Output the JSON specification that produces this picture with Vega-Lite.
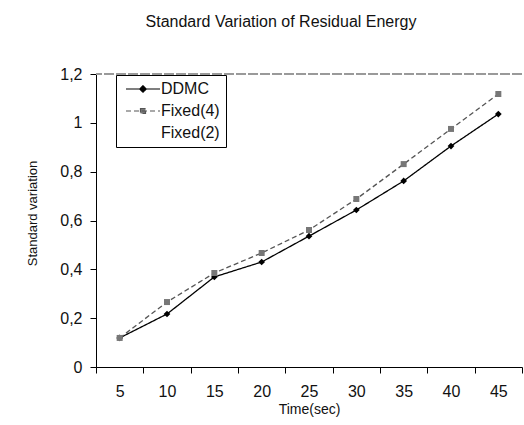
{
  "$schema": "https://vega.github.io/schema/vega-lite/v6.json",
  "width": 426,
  "height": 293,
  "autosize": {"type": "none"},
  "padding": {"left": 96, "top": 74, "right": 2, "bottom": 58},
  "background": "white",
  "config": {
    "font": "Liberation Sans",
    "view": {"stroke": null}
  },
  "title": {
    "text": "Standard Variation of Residual Energy",
    "fontSize": 16,
    "fontWeight": "normal",
    "font": "Liberation Sans",
    "color": "#111",
    "anchor": "middle",
    "dx": -28,
    "offset": 36
  },
  "data": {
    "values": [
      {"time": 5, "series": "DDMC", "value": 0.119},
      {"time": 10, "series": "DDMC", "value": 0.217},
      {"time": 15, "series": "DDMC", "value": 0.369},
      {"time": 20, "series": "DDMC", "value": 0.43},
      {"time": 25, "series": "DDMC", "value": 0.536},
      {"time": 30, "series": "DDMC", "value": 0.643},
      {"time": 35, "series": "DDMC", "value": 0.762},
      {"time": 40, "series": "DDMC", "value": 0.905},
      {"time": 45, "series": "DDMC", "value": 1.036},
      {"time": 5, "series": "Fixed(4)", "value": 0.119},
      {"time": 10, "series": "Fixed(4)", "value": 0.266},
      {"time": 15, "series": "Fixed(4)", "value": 0.385},
      {"time": 20, "series": "Fixed(4)", "value": 0.467},
      {"time": 25, "series": "Fixed(4)", "value": 0.561},
      {"time": 30, "series": "Fixed(4)", "value": 0.688},
      {"time": 35, "series": "Fixed(4)", "value": 0.831},
      {"time": 40, "series": "Fixed(4)", "value": 0.975},
      {"time": 45, "series": "Fixed(4)", "value": 1.118}
    ]
  },
  "encoding": {
    "x": {
      "field": "time",
      "type": "ordinal",
      "scale": {"paddingInner": 0, "paddingOuter": 0},
      "axis": {
        "title": "Time(sec)",
        "labelAngle": 0,
        "tickBand": "extent",
        "labelFontSize": 16,
        "labelColor": "#111",
        "labelPadding": 10,
        "titleFontSize": 14,
        "titleFontWeight": "normal",
        "titleColor": "#111",
        "titlePadding": 3,
        "domainColor": "black",
        "tickColor": "black",
        "tickSize": 6,
        "grid": false
      }
    },
    "y": {
      "field": "value",
      "type": "quantitative",
      "scale": {"domain": [0, 1.2], "nice": false},
      "axis": {
        "title": "Standard variation",
        "titleY": 139,
        "values": [0, 0.2, 0.4, 0.6, 0.8, 1, 1.2],
        "labelExpr": "replace(format(datum.value, '~g'), '.', ',')",
        "labelFontSize": 16,
        "labelColor": "#111",
        "labelPadding": 8,
        "titleFontSize": 13,
        "titleFontWeight": "normal",
        "titleColor": "#111",
        "titlePadding": 20,
        "domainColor": "black",
        "tickColor": "black",
        "tickSize": 6,
        "grid": false
      }
    }
  },
  "layer": [
    {
      "mark": {"type": "rule", "color": "#999", "strokeDash": [10, 2], "strokeWidth": 1},
      "encoding": {"y": {"datum": 1.2}, "x": null}
    },
    {
      "mark": {"type": "line", "strokeWidth": 1.3},
      "encoding": {
        "color": {
          "field": "series",
          "type": "nominal",
          "scale": {"domain": ["DDMC", "Fixed(4)", "Fixed(2)"], "range": ["black", "#555", "white"]},
          "legend": {
            "title": null,
            "orient": "none",
            "legendX": 20,
            "legendY": 1,
            "strokeColor": "black",
            "fillColor": "white",
            "padding": 6,
            "labelFontSize": 16,
            "labelColor": "#111",
            "symbolSize": 100,
            "symbolOffset": 13,
            "rowPadding": 6,
            "labelOffset": 10,
            "encode": {
              "symbols": {
                "update": {
                  "shape": {"signal": "datum.value === 'DDMC' ? 'M-3.4,0H3.4M0,-0.65L0.65,0L0,0.65L-0.65,0Z' : datum.value === 'Fixed(4)' ? 'M-3.4,0H3.4M-0.5,-0.5H0.5V0.5H-0.5Z' : 'M0,0'"},
                  "size": {"value": 100},
                  "stroke": {"signal": "datum.value === 'DDMC' ? 'black' : datum.value === 'Fixed(4)' ? '#555' : 'white'"},
                  "fill": {"signal": "datum.value === 'DDMC' ? 'black' : datum.value === 'Fixed(4)' ? '#777' : 'white'"},
                  "strokeDash": {"signal": "datum.value === 'Fixed(4)' ? [4, 2] : [1, 0]"},
                  "strokeWidth": {"value": 1.2},
                  "opacity": {"value": 1}
                }
              }
            }
          }
        },
        "strokeDash": {
          "field": "series",
          "type": "nominal",
          "scale": {"domain": ["DDMC", "Fixed(4)", "Fixed(2)"], "range": [[1, 0], [5, 3], [1, 0]]}
        }
      }
    },
    {
      "transform": [{"filter": "datum.series === 'DDMC'"}],
      "mark": {"type": "point", "shape": "diamond", "filled": true, "opacity": 1, "color": "black", "size": 45}
    },
    {
      "transform": [{"filter": "datum.series === 'Fixed(4)'"}],
      "mark": {"type": "point", "shape": "square", "filled": true, "opacity": 1, "color": "#777", "size": 36}
    }
  ]
}
